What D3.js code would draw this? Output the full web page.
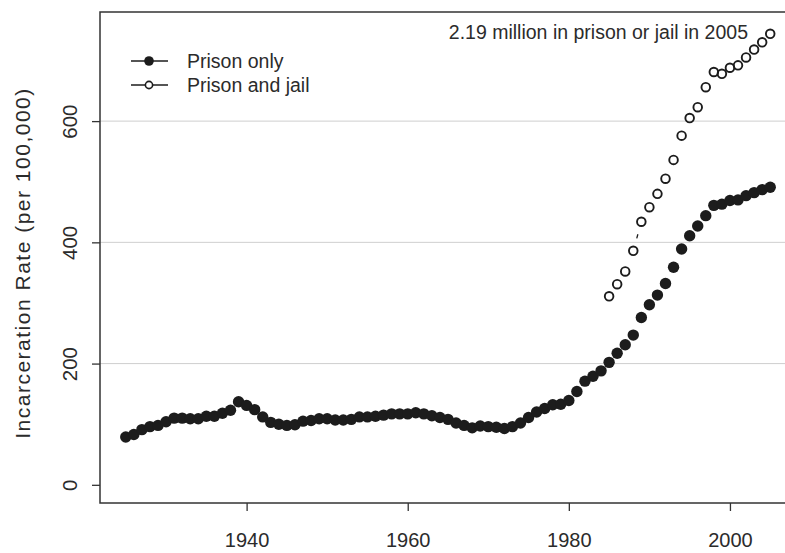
<!DOCTYPE html>
<html>
<head>
<meta charset="utf-8">
<script src="https://cdn.jsdelivr.net/npm/d3@7"></script>
<style>
  body { margin: 0; background: #fff; }
  text { font-family: "Liberation Sans", Arial, sans-serif; fill: #2b2b2b; }
</style>
</head>
<body>
<svg id="chart" width="785" height="553"></svg>
<script>
// years and rates (per 100,000)
const prisonYears = d3.range(1925, 2006);
const prisonOnly = [
  79, 83, 91, 96, 98, 104, 110, 110, 109, 109,
  113, 113, 118, 123, 137, 131, 124, 112, 103, 100,
  98, 99, 105, 106, 109, 109, 107, 107, 108, 112,
  112, 113, 115, 117, 117, 117, 119, 117, 114, 111,
  108, 102, 98, 94, 97, 96, 95, 93, 96, 102,
  111, 120, 126, 132, 133, 139, 154, 171, 179, 188,
  202, 217, 231, 247, 276, 297, 313, 332, 359, 389,
  411, 427, 444, 461, 463, 469, 470, 477, 482, 487, 491
];
const jailYears = d3.range(1985, 2006);
const prisonAndJail = [
  311, 331, 352, 386, 434, 458, 480, 505, 536, 576,
  605, 623, 656, 681, 678, 688, 692, 705, 718, 730, 744
];
const xTicks = [1940, 1960, 1980, 2000];
const yTicks = [0, 200, 400, 600];
const gridValues = [200, 400, 600];
const legendLabels = ["Prison only", "Prison and jail"];
const note = "2.19 million in prison or jail in 2005";

const svg = d3.select("#chart");
const mLeft = 100, mTop = 12, mBottom = 503, mRight = 796;
const ink = "#1c1c1c";

const x = d3.scaleLinear().domain([1921.8, 2008.2]).range([mLeft, mRight]);
const y = d3.scaleLinear().domain([-30, 780]).range([mBottom, mTop]);

// grid
svg.selectAll(".grid")
  .data(gridValues)
  .enter().append("line")
  .attr("x1", mLeft).attr("x2", mRight)
  .attr("y1", d => y(d)).attr("y2", d => y(d))
  .attr("stroke", "#cfcfcf").attr("stroke-width", 1);

// axes
const xAxis = svg.append("g")
  .attr("transform", "translate(0," + mBottom + ")")
  .call(d3.axisBottom(x).tickValues(xTicks).tickFormat(d3.format("d")).tickSize(8).tickPadding(22));
xAxis.select(".domain").remove();
xAxis.selectAll("line").attr("stroke", "#333").attr("stroke-width", 1.3);
xAxis.selectAll("text").attr("font-size", 20).attr("fill", "#2b2b2b")
  .attr("font-family", "Liberation Sans, Arial, sans-serif");

const yAxis = svg.append("g")
  .attr("transform", "translate(" + mLeft + ",0)")
  .call(d3.axisLeft(y).tickValues(yTicks).tickSize(8));
yAxis.select(".domain").remove();
yAxis.selectAll("line").attr("stroke", "#333").attr("stroke-width", 1.3);
yAxis.selectAll("text").remove();
yAxis.selectAll(".tick").append("text")
  .attr("transform", "translate(-30,0) rotate(-90)")
  .attr("text-anchor", "middle")
  .attr("dy", "0.36em")
  .attr("font-size", 20.5)
  .text(d => d);

// box
svg.append("rect")
  .attr("x", mLeft).attr("y", mTop)
  .attr("width", mRight - mLeft).attr("height", mBottom - mTop)
  .attr("fill", "none").attr("stroke", "#333").attr("stroke-width", 1.5);

// y label
svg.append("text")
  .attr("transform", "translate(22,263) rotate(-90)")
  .attr("text-anchor", "middle")
  .attr("dy", "0.36em")
  .attr("font-size", 21)
  .attr("letter-spacing", 1.5)
  .text("Incarceration Rate (per 100,000)");

// type "b" style segments: lines between points with gaps around each point
function gapSegments(xs, ys, gap) {
  const segs = [];
  for (let i = 1; i < xs.length; i++) {
    const x0 = x(xs[i - 1]), y0 = y(ys[i - 1]), x1 = x(xs[i]), y1 = y(ys[i]);
    const len = Math.hypot(x1 - x0, y1 - y0);
    if (len > 2 * gap) {
      const ux = (x1 - x0) / len, uy = (y1 - y0) / len;
      segs.push([x0 + ux * gap, y0 + uy * gap, x1 - ux * gap, y1 - uy * gap]);
    }
  }
  return segs;
}

const series = [
  { xs: prisonYears, ys: prisonOnly, filled: true },
  { xs: jailYears, ys: prisonAndJail, filled: false }
];

series.forEach(s => {
  svg.append("g").selectAll("line")
    .data(gapSegments(s.xs, s.ys, 13))
    .enter().append("line")
    .attr("x1", d => d[0]).attr("y1", d => d[1])
    .attr("x2", d => d[2]).attr("y2", d => d[3])
    .attr("stroke", ink).attr("stroke-width", 1.3);

  svg.append("g").selectAll("circle")
    .data(s.ys)
    .enter().append("circle")
    .attr("cx", (d, i) => x(s.xs[i]))
    .attr("cy", d => y(d))
    .attr("r", s.filled ? 5.7 : 4.3)
    .attr("fill", s.filled ? ink : "none")
    .attr("stroke", ink)
    .attr("stroke-width", s.filled ? 0 : 1.9);
});

// legend
const legend = svg.append("g");
legendLabels.forEach((lab, i) => {
  const ly = 61 + i * 24;
  legend.append("line")
    .attr("x1", 131).attr("x2", 168).attr("y1", ly).attr("y2", ly)
    .attr("stroke", ink).attr("stroke-width", 1.4);
  legend.append("circle")
    .attr("cx", 149).attr("cy", ly)
    .attr("r", i === 0 ? 4.8 : 3.6)
    .attr("fill", i === 0 ? ink : "#fff")
    .attr("stroke", ink)
    .attr("stroke-width", i === 0 ? 0 : 1.6);
  legend.append("text")
    .attr("x", 187).attr("y", ly)
    .attr("dy", "0.36em")
    .attr("font-size", 19.5)
    .text(lab);
});

// annotation
svg.append("text")
  .attr("x", 748).attr("y", 39)
  .attr("text-anchor", "end")
  .attr("font-size", 19.5)
  .text(note);
</script>
</body>
</html>
